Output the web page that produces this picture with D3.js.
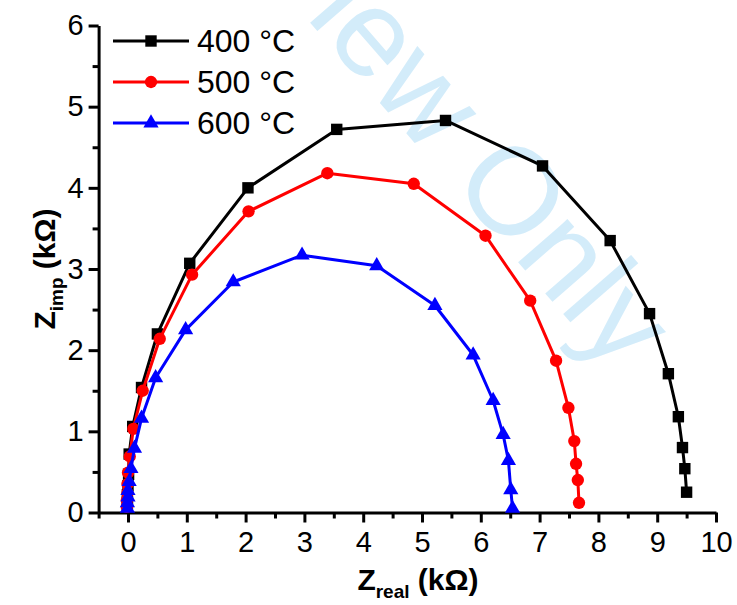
<!DOCTYPE html>
<html>
<head>
<meta charset="utf-8">
<script src="https://cdn.jsdelivr.net/npm/d3@7"></script>
<style>
  body { margin: 0; background: #fff; }
  svg text { font-family: "Liberation Sans", Arial, sans-serif; }
</style>
</head>
<body>
<svg id="chart" width="737" height="605"></svg>
<script>
// Nyquist data, kOhm, ordered from high frequency (origin) outwards
const zReal400 = [-0.01, -0.01, -0.01, 0.00, 0.01, 0.02, 0.08, 0.23, 0.50, 1.05, 2.04, 3.55, 5.40, 7.05, 8.20, 8.87, 9.19, 9.36, 9.43, 9.47, 9.50];
const zImp400  = [0.06, 0.13, 0.22, 0.33, 0.47, 0.72, 1.06, 1.54, 2.20, 3.07, 4.00, 4.72, 4.83, 4.27, 3.35, 2.45, 1.71, 1.18, 0.80, 0.54, 0.25];

const zReal500 = [-0.02, -0.02, -0.01, -0.01, 0.00, 0.03, 0.09, 0.25, 0.54, 1.09, 2.05, 3.39, 4.86, 6.08, 6.84, 7.28, 7.49, 7.59, 7.62, 7.65, 7.67];
const zImp500  = [0.07, 0.15, 0.24, 0.35, 0.49, 0.69, 1.03, 1.50, 2.14, 2.93, 3.71, 4.18, 4.05, 3.41, 2.61, 1.87, 1.29, 0.88, 0.60, 0.40, 0.12];

const zReal600 = [-0.01, -0.01, 0.00, 0.00, 0.02, 0.05, 0.11, 0.23, 0.47, 0.98, 1.79, 2.96, 4.23, 5.22, 5.87, 6.21, 6.38, 6.47, 6.51, 6.54];
const zImp600  = [0.05, 0.12, 0.19, 0.27, 0.38, 0.54, 0.79, 1.16, 1.66, 2.25, 2.84, 3.17, 3.04, 2.55, 1.94, 1.38, 0.96, 0.64, 0.28, 0.05];

const seriesLabels = ["400 \u00b0C", "500 \u00b0C", "600 \u00b0C"];
const seriesColors = ["#000000", "#ff0000", "#0000ff"];
const seriesSymbols = [d3.symbolSquare, d3.symbolCircle, d3.symbolTriangle];
const symbolSizes = [130, 120, 100];

const xTicks = [0, 1, 2, 3, 4, 5, 6, 7, 8, 9, 10];
const xMinorTicks = [-0.5, 0.5, 1.5, 2.5, 3.5, 4.5, 5.5, 6.5, 7.5, 8.5, 9.5];
const yTicks = [0, 1, 2, 3, 4, 5, 6];
const yMinorTicks = [0.5, 1.5, 2.5, 3.5, 4.5, 5.5];

const series = [
    { label: seriesLabels[0], color: seriesColors[0], symbol: seriesSymbols[0], size: symbolSizes[0],
      points: zReal400.map((x, i) => ({ x: x, y: zImp400[i] })) },
    { label: seriesLabels[1], color: seriesColors[1], symbol: seriesSymbols[1], size: symbolSizes[1],
      points: zReal500.map((x, i) => ({ x: x, y: zImp500[i] })) },
    { label: seriesLabels[2], color: seriesColors[2], symbol: seriesSymbols[2], size: symbolSizes[2],
      points: zReal600.map((x, i) => ({ x: x, y: zImp600[i] })) },
];

const svg = d3.select("#chart");

const x = d3.scaleLinear().domain([-0.5, 10]).range([98.6, 716]);
const y = d3.scaleLinear().domain([0, 6]).range([512.5, 25.5]);

// watermark sits behind everything
svg.append("text")
    .attr("transform", "translate(160,-150) rotate(49)")
    .attr("font-size", 124)
    .attr("fill", "#d3ecfa")
    .text("Review Only");

// axes
svg.append("g")
    .attr("transform", `translate(0,${y(0)})`)
    .call(d3.axisBottom(x).tickValues(xTicks).tickSize(10).tickSizeOuter(0).tickPadding(9).tickFormat(d3.format("d")));

svg.append("g")
    .attr("transform", `translate(0,${y(0)})`)
    .call(d3.axisBottom(x).tickValues(xMinorTicks).tickSize(6).tickSizeOuter(0).tickFormat(""))
    .call((g) => g.select(".domain").remove());

svg.append("g")
    .attr("transform", `translate(${x(-0.5)},0)`)
    .call(d3.axisLeft(y).tickValues(yTicks).tickSize(10).tickSizeOuter(0).tickPadding(5).tickFormat(d3.format("d")));

svg.append("g")
    .attr("transform", `translate(${x(-0.5)},0)`)
    .call(d3.axisLeft(y).tickValues(yMinorTicks).tickSize(6).tickSizeOuter(0).tickFormat(""))
    .call((g) => g.select(".domain").remove());

svg.selectAll(".domain, .tick line")
    .attr("stroke", "#000")
    .attr("stroke-width", 3);

svg.selectAll(".tick text")
    .attr("font-family", "Liberation Sans, Arial, sans-serif")
    .attr("font-size", 29)
    .attr("fill", "#000");

// axis titles
const xTitle = svg.append("text")
    .attr("x", 418)
    .attr("y", 590)
    .attr("text-anchor", "middle")
    .attr("font-size", 30)
    .attr("font-weight", "bold");
xTitle.append("tspan").text("Z");
xTitle.append("tspan").attr("font-size", 19).attr("dy", 8).text("real");
xTitle.append("tspan").attr("dy", -8).text(" (k\u03a9)");

const yTitle = svg.append("text")
    .attr("transform", `translate(55,${y(3)}) rotate(-90)`)
    .attr("text-anchor", "middle")
    .attr("font-size", 30)
    .attr("font-weight", "bold");
yTitle.append("tspan").text("Z");
yTitle.append("tspan").attr("font-size", 19).attr("dy", 8).text("imp");
yTitle.append("tspan").attr("dy", -8).text(" (k\u03a9)");

// curves
const line = d3.line().x((d) => x(d.x)).y((d) => y(d.y));

series.forEach((s) => {
    const g = svg.append("g");
    g.append("path")
        .attr("d", line(s.points))
        .attr("fill", "none")
        .attr("stroke", s.color)
        .attr("stroke-width", 3)
        .attr("stroke-linejoin", "round");
    g.selectAll("path.marker")
        .data(s.points)
        .join("path")
        .attr("class", "marker")
        .attr("transform", (d) => `translate(${x(d.x)},${y(d.y)})`)
        .attr("d", d3.symbol().type(s.symbol).size(s.size))
        .attr("fill", s.color);
});

// legend
const legend = svg.append("g");
const legendRows = [41, 82, 123];
series.forEach((s, i) => {
    const row = legend.append("g").attr("transform", `translate(0,${legendRows[i]})`);
    row.append("line")
        .attr("x1", 113).attr("x2", 189)
        .attr("stroke", s.color)
        .attr("stroke-width", 3);
    row.append("path")
        .attr("transform", "translate(151,0)")
        .attr("d", d3.symbol().type(s.symbol).size(s.size))
        .attr("fill", s.color);
    row.append("text")
        .attr("x", 197)
        .attr("y", 11)
        .attr("font-size", 32)
        .text(s.label);
});
</script>
</body>
</html>
